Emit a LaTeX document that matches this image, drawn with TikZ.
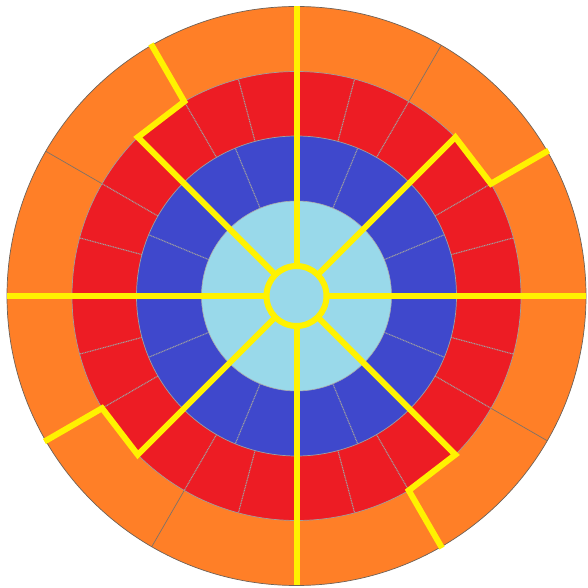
\documentclass[tikz,border=0pt]{standalone}
\definecolor{ringorange}{HTML}{FF7F27}
\definecolor{ringred}{HTML}{ED1C24}
\definecolor{ringblue}{HTML}{3F48CC}
\definecolor{corelblue}{HTML}{99D9EA}
\definecolor{spokeyellow}{HTML}{FFF200}
\definecolor{edgegray}{HTML}{6E6258}
\begin{document}
\begin{tikzpicture}[x=1pt,y=1pt,
  outline/.style={draw=edgegray,line width=0.7pt},
  thindiv/.style={draw=edgegray!90,line width=0.7pt},
  softdiv/.style={draw=gray!75,line width=1.1pt,dash pattern=on 1pt off 0.7pt},
  spoke/.style={draw=spokeyellow,line width=6pt}]
\useasboundingbox (0,0) rectangle (588,588);
\begin{scope}[shift={(296.5,292)}]
\coordinate (O) at (0,0);
% rings
\fill[ringorange] (O) circle (289.5);
\fill[ringred] (O) circle (224.5);
\fill[ringblue] (O) circle (160);
\fill[corelblue] (O) circle (95);
% dividers of the rings
\foreach \a in {0,30,...,330}
  \draw[thindiv] (\a:224.5) -- (\a:289.5);
\foreach \a in {0,15,...,345}
  \draw[softdiv] (\a:160) -- (\a:224.5);
\foreach \a in {0,22.5,...,337.5}
  \draw[softdiv] (\a:95) -- (\a:160);
% ring outlines
\draw[outline] (O) circle (289.5);
\draw[draw=gray!75,line width=0.7pt] (O) circle (224.5);
\draw[draw=gray!75,line width=0.7pt] (O) circle (160);
\draw[draw=gray!65,line width=0.6pt] (O) circle (95);
% yellow spokes
\foreach \a in {0,90,180,270}
  \draw[spoke] (\a:30) -- (\a:289.5);
\foreach \a in {45,135,225,315}
  \draw[spoke] (\a:30) -- (\a:224.5) -- ({\a-15}:224.5) -- ({\a-15}:291);
\draw[spoke] (O) circle (30);
\end{scope}
\end{tikzpicture}
\end{document}
